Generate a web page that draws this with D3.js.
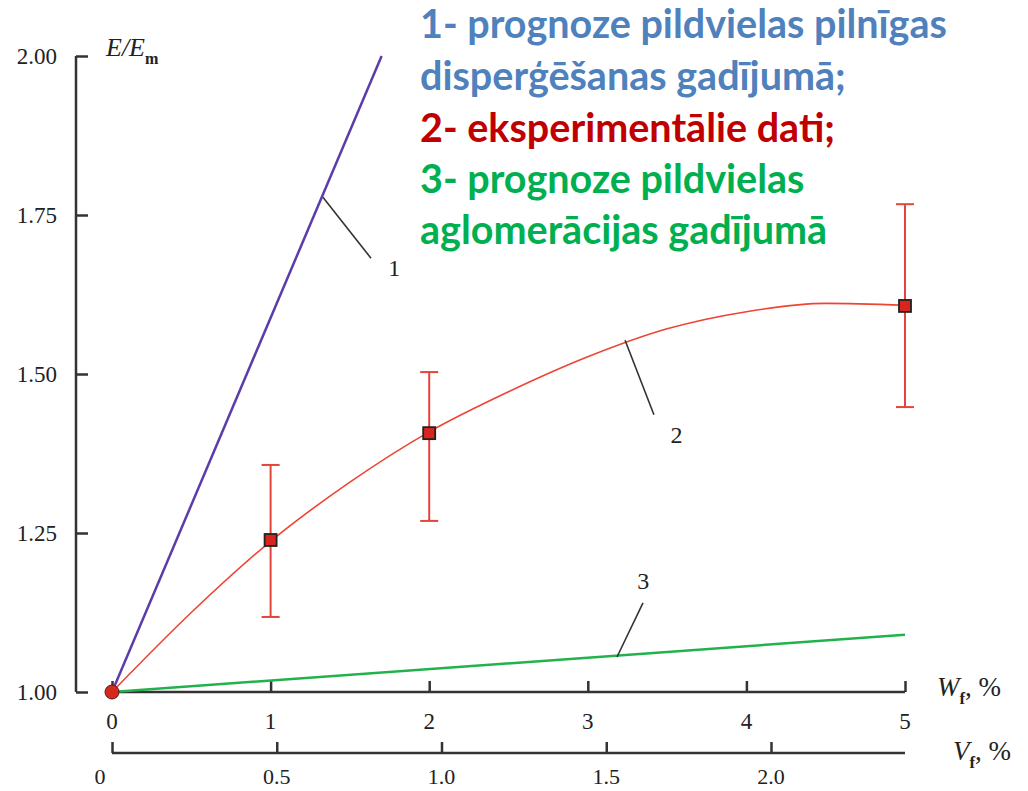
<!DOCTYPE html>
<html><head><meta charset="utf-8">
<script src="https://cdn.jsdelivr.net/npm/d3@7"></script>
<style>body{margin:0;background:#fff}svg{display:block}</style>
</head><body>
<svg id="c" width="1028" height="791"></svg>
<script>
// ---- data ----
const wTicks = [0, 1, 2, 3, 4, 5];
const vTicks = [0, 0.5, 1.0, 1.5, 2.0];
const vTickLabels = ["0", "0.5", "1.0", "1.5", "2.0"];
const yTicks = [1.00, 1.25, 1.50, 1.75, 2.00];
const yTickLabels = ["1.00", "1.25", "1.50", "1.75", "2.00"];

// line 1: full dispersion prediction
const line1W = [0, 1.70];
const line1E = [1.00, 2.00];
// line 3: agglomeration prediction
const line3W = [0, 5];
const line3E = [1.00, 1.09];
// line 2: fitted curve through experimental data
const curveW = [0, 0.5, 1, 1.5, 2, 2.5, 3, 3.5, 4, 4.5, 5];
const curveE = [1.00, 1.125, 1.237, 1.33, 1.409, 1.472, 1.527, 1.571, 1.598, 1.611, 1.608];
// experimental points
const expW = [0, 1, 2, 5];
const expE = [1.00, 1.239, 1.407, 1.607];
const errW = [1, 2, 5];
const errLow = [1.118, 1.269, 1.448];
const errHigh = [1.357, 1.503, 1.767];

// curve labels with leader lines (data units)
const labelText = ["1", "2", "3"];
const leadStartW = [1.330, 3.235, 3.184];
const leadStartE = [1.778, 1.553, 1.055];
const leadEndW = [1.633, 3.417, 3.348];
const leadEndE = [1.682, 1.436, 1.140];
const labelW = [1.78, 3.56, 3.35];
const labelE = [1.654, 1.392, 1.162];

const legendLines = [
  "1- prognoze pildvielas pilnīgas",
  "disperģēšanas gadījumā;",
  "2- eksperimentālie dati;",
  "3- prognoze pildvielas",
  "aglomerācijas gadījumā"
];
const legendGroup = [0, 0, 1, 2, 2];
const legendColors = ["#4f81bd", "#c00000", "#00b050"];

// ---- drawing ----
const svg = d3.select("#c");
const x = d3.scaleLinear().domain([0, 5]).range([112, 905]);
const vx = d3.scaleLinear().domain([0, 2]).range([112, 771]);
const y = d3.scaleLinear().domain([1, 2]).range([692, 56]);
const axisColor = "#333";
const serif = "'Liberation Serif','DejaVu Serif',serif";

// y axis
const yAxisX = 76;
const yAx = svg.append("g").attr("transform", `translate(${yAxisX},0)`)
  .call(d3.axisRight(y).tickValues(yTicks).tickSize(12).tickFormat(""));
yAx.select(".domain").remove();
yAx.selectAll("line").attr("stroke", axisColor).attr("stroke-width", 2.5);
svg.append("line").attr("x1", yAxisX).attr("x2", yAxisX).attr("y1", y(2)).attr("y2", y(1))
  .attr("stroke", axisColor).attr("stroke-width", 2.5);
svg.append("g").selectAll("text").data(yTicks).join("text")
  .attr("x", 57).attr("y", d => y(d) + 8).attr("text-anchor", "end")
  .attr("font-family", serif).attr("font-size", 23).attr("fill", "#222")
  .text((d, i) => yTickLabels[i]);

// W axis
const wAx = svg.append("g").attr("transform", `translate(0,${y(1)})`)
  .call(d3.axisTop(x).tickValues(wTicks).tickSize(11).tickFormat(""));
wAx.select(".domain").remove();
wAx.selectAll("line").attr("stroke", axisColor).attr("stroke-width", 2.5);
svg.append("line").attr("x1", x(0)).attr("x2", x(5)).attr("y1", y(1)).attr("y2", y(1))
  .attr("stroke", axisColor).attr("stroke-width", 2.5);
svg.append("g").selectAll("text").data(wTicks).join("text")
  .attr("x", d => x(d)).attr("y", 729).attr("text-anchor", "middle")
  .attr("font-family", serif).attr("font-size", 23).attr("fill", "#222")
  .text(d => d);

// V axis
const vY = 753;
const vAx = svg.append("g").attr("transform", `translate(0,${vY})`)
  .call(d3.axisTop(vx).tickValues(vTicks).tickSize(11).tickFormat(""));
vAx.select(".domain").remove();
vAx.selectAll("line").attr("stroke", axisColor).attr("stroke-width", 2.5);
svg.append("line").attr("x1", x(0)).attr("x2", x(5)).attr("y1", vY).attr("y2", vY)
  .attr("stroke", axisColor).attr("stroke-width", 2.5);
svg.append("g").selectAll("text").data(vTicks).join("text")
  .attr("x", d => vx(d) + (d === 0 ? -12 : 0)).attr("y", 784).attr("text-anchor", "middle")
  .attr("font-family", serif).attr("font-size", 22).attr("fill", "#222")
  .text((d, i) => vTickLabels[i]);

// axis titles
function title(xp, yp, main, sub, tail, size) {
  const t = svg.append("text").attr("x", xp).attr("y", yp)
    .attr("font-family", serif).attr("font-size", size).attr("fill", "#222");
  t.append("tspan").attr("font-style", "italic").text(main);
  t.append("tspan").attr("font-size", size * 0.62).attr("font-weight", "bold").attr("dy", size * 0.3).text(sub);
  if (tail) t.append("tspan").attr("dy", -size * 0.3).text(tail);
}
title(106, 56, "E/E", "m", null, 26);
title(937, 696, "W", "f", ", %", 27);
title(953, 760, "V", "f", ", %", 27);

// line 1
const line = d3.line().x((d) => x(d[0])).y(d => y(d[1]));
svg.append("path").datum(line1W.map((w, i) => [w, line1E[i]]))
  .attr("d", line).attr("fill", "none").attr("stroke", "#5b3ca8").attr("stroke-width", 2.5);
// line 3
svg.append("path").datum(line3W.map((w, i) => [w, line3E[i]]))
  .attr("d", line).attr("fill", "none").attr("stroke", "#22b24c").attr("stroke-width", 2.5);
// line 2 curve
svg.append("path").datum(curveW.map((w, i) => [w, curveE[i]]))
  .attr("d", line.curve(d3.curveMonotoneX)).attr("fill", "none").attr("stroke", "#ee4433").attr("stroke-width", 1.6);

// error bars
const eb = svg.append("g").attr("stroke", "#e2453a").attr("stroke-width", 2);
errW.forEach((w, i) => {
  eb.append("line").attr("x1", x(w)).attr("x2", x(w)).attr("y1", y(errHigh[i])).attr("y2", y(errLow[i]));
  eb.append("line").attr("x1", x(w) - 9).attr("x2", x(w) + 9).attr("y1", y(errHigh[i])).attr("y2", y(errHigh[i]));
  eb.append("line").attr("x1", x(w) - 9).attr("x2", x(w) + 9).attr("y1", y(errLow[i])).attr("y2", y(errLow[i]));
});

// markers
expW.forEach((w, i) => {
  if (i === 0) {
    svg.append("circle").attr("cx", x(w)).attr("cy", y(expE[i])).attr("r", 7)
      .attr("fill", "#d42a1e").attr("stroke", "#5a1a14").attr("stroke-width", 1);
  } else {
    svg.append("rect").attr("x", x(w) - 6).attr("y", y(expE[i]) - 6).attr("width", 12).attr("height", 12)
      .attr("fill", "#d8261c").attr("stroke", "#222").attr("stroke-width", 1.8);
  }
});

// leader lines and labels
labelText.forEach((t, i) => {
  svg.append("line").attr("x1", x(leadStartW[i])).attr("y1", y(leadStartE[i]))
    .attr("x2", x(leadEndW[i])).attr("y2", y(leadEndE[i]))
    .attr("stroke", "#333").attr("stroke-width", 1.6);
  svg.append("text").attr("x", x(labelW[i])).attr("y", y(labelE[i])).attr("text-anchor", "middle")
    .attr("font-family", serif).attr("font-size", 24).attr("fill", "#222").text(t);
});

// legend text
const legendBase = [38, 90, 142, 193, 244];
const lg = svg.append("g");
const first = lg.append("text").attr("font-family", "Lato, 'Open Sans', sans-serif").attr("font-weight", "bold")
  .attr("font-size", 32).text(legendLines[0]);
const w0 = first.node().getComputedTextLength();
const fs = 32 * 527 / w0;
first.remove();
legendLines.forEach((t, i) => {
  lg.append("text").attr("x", 420).attr("y", legendBase[i])
    .attr("font-family", "Lato, 'Open Sans', sans-serif").attr("font-weight", "bold")
    .attr("font-size", fs).attr("fill", legendColors[legendGroup[i]]).text(t);
});
</script>
</body></html>
